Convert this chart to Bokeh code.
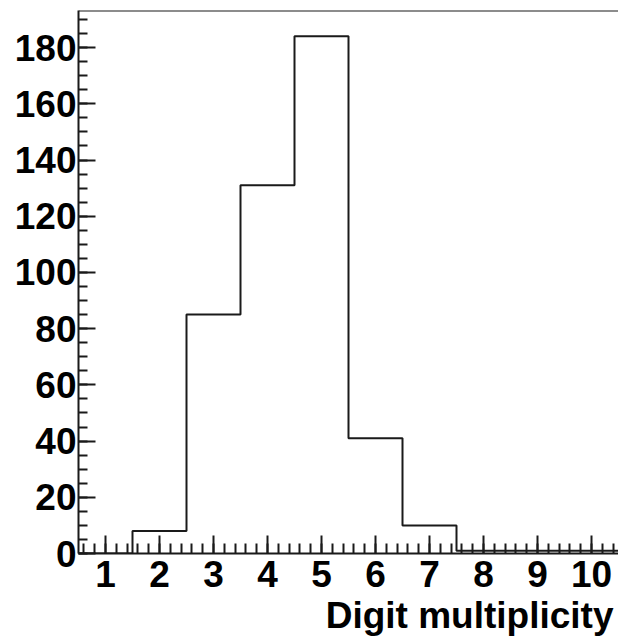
import numpy as np
from bokeh.plotting import figure
from bokeh.models import FixedTicker, Range1d, Span, Title
from bokeh.embed import file_html
from bokeh.resources import INLINE

# Histogram of digit multiplicity (unit-width bins centred on integers)
bin_centers = [1, 2, 3, 4, 5, 6, 7, 8, 9, 10]
counts = [0, 8, 85, 131, 184, 41, 10, 1, 1, 1]
x_tick_labels = ["1", "2", "3", "4", "5", "6", "7", "8", "9", "10"]
y_major = [0, 20, 40, 60, 80, 100, 120, 140, 160, 180]
x_title = "Digit multiplicity"

FONT = "Liberation Sans"
INK = "#1a1a1a"

y_top = max(counts) * 1.05
x_lo, x_hi = bin_centers[0] - 0.5, bin_centers[-1] + 0.5

p = figure(
    width=618, height=638,
    output_backend="svg", toolbar_location=None,
    x_range=Range1d(x_lo, x_hi), y_range=Range1d(0, y_top),
    min_border_left=78, min_border_right=0,
    min_border_top=10, min_border_bottom=0,
)
p.outline_line_color = None
p.grid.visible = False
p.background_fill_color = "white"
p.border_fill_color = "white"

# Step outline of the histogram
edges = [c - 0.5 for c in bin_centers] + [bin_centers[-1] + 0.5]
step_y = counts + [counts[-1]]
p.step(x=edges, y=step_y, mode="after", line_color=INK, line_width=2)

# Top frame line
p.add_layout(Span(location=y_top, dimension="width", line_color=INK, line_width=2))

# x axis: integer majors, five subdivisions
p.xaxis.ticker = FixedTicker(
    ticks=bin_centers,
    minor_ticks=list(np.round(np.arange(x_lo + 0.1, x_hi, 0.2), 3)),
)
p.xaxis.major_label_overrides = {c: t for c, t in zip(bin_centers, x_tick_labels)}
p.xaxis.major_tick_in = 18
p.xaxis.major_tick_out = 0
p.xaxis.minor_tick_in = 10
p.xaxis.minor_tick_out = 0
p.xaxis.major_label_standoff = 7

# y axis: majors every 20, minors every 5
p.yaxis.ticker = FixedTicker(
    ticks=y_major,
    minor_ticks=list(np.arange(0, y_top, 5)),
)
p.yaxis.major_tick_in = 17
p.yaxis.major_tick_out = 0
p.yaxis.minor_tick_in = 9
p.yaxis.minor_tick_out = 0
p.yaxis.major_label_standoff = 2

for ax in (p.xaxis, p.yaxis):
    ax.axis_line_color = INK
    ax.axis_line_width = 2
    ax.major_tick_line_color = INK
    ax.major_tick_line_width = 2
    ax.minor_tick_line_color = INK
    ax.minor_tick_line_width = 2
    ax.major_label_text_font = FONT
    ax.major_label_text_font_style = "bold"
    ax.major_label_text_font_size = "37px"
    ax.major_label_text_color = "black"

# Axis title, right-aligned under the end of the x axis
p.add_layout(Title(
    text=x_title, align="right", offset=5, standoff=6,
    text_font=FONT, text_font_style="bold", text_font_size="37px",
    text_color="black",
), "below")

open("out.html", "w").write(file_html(p, INLINE))
